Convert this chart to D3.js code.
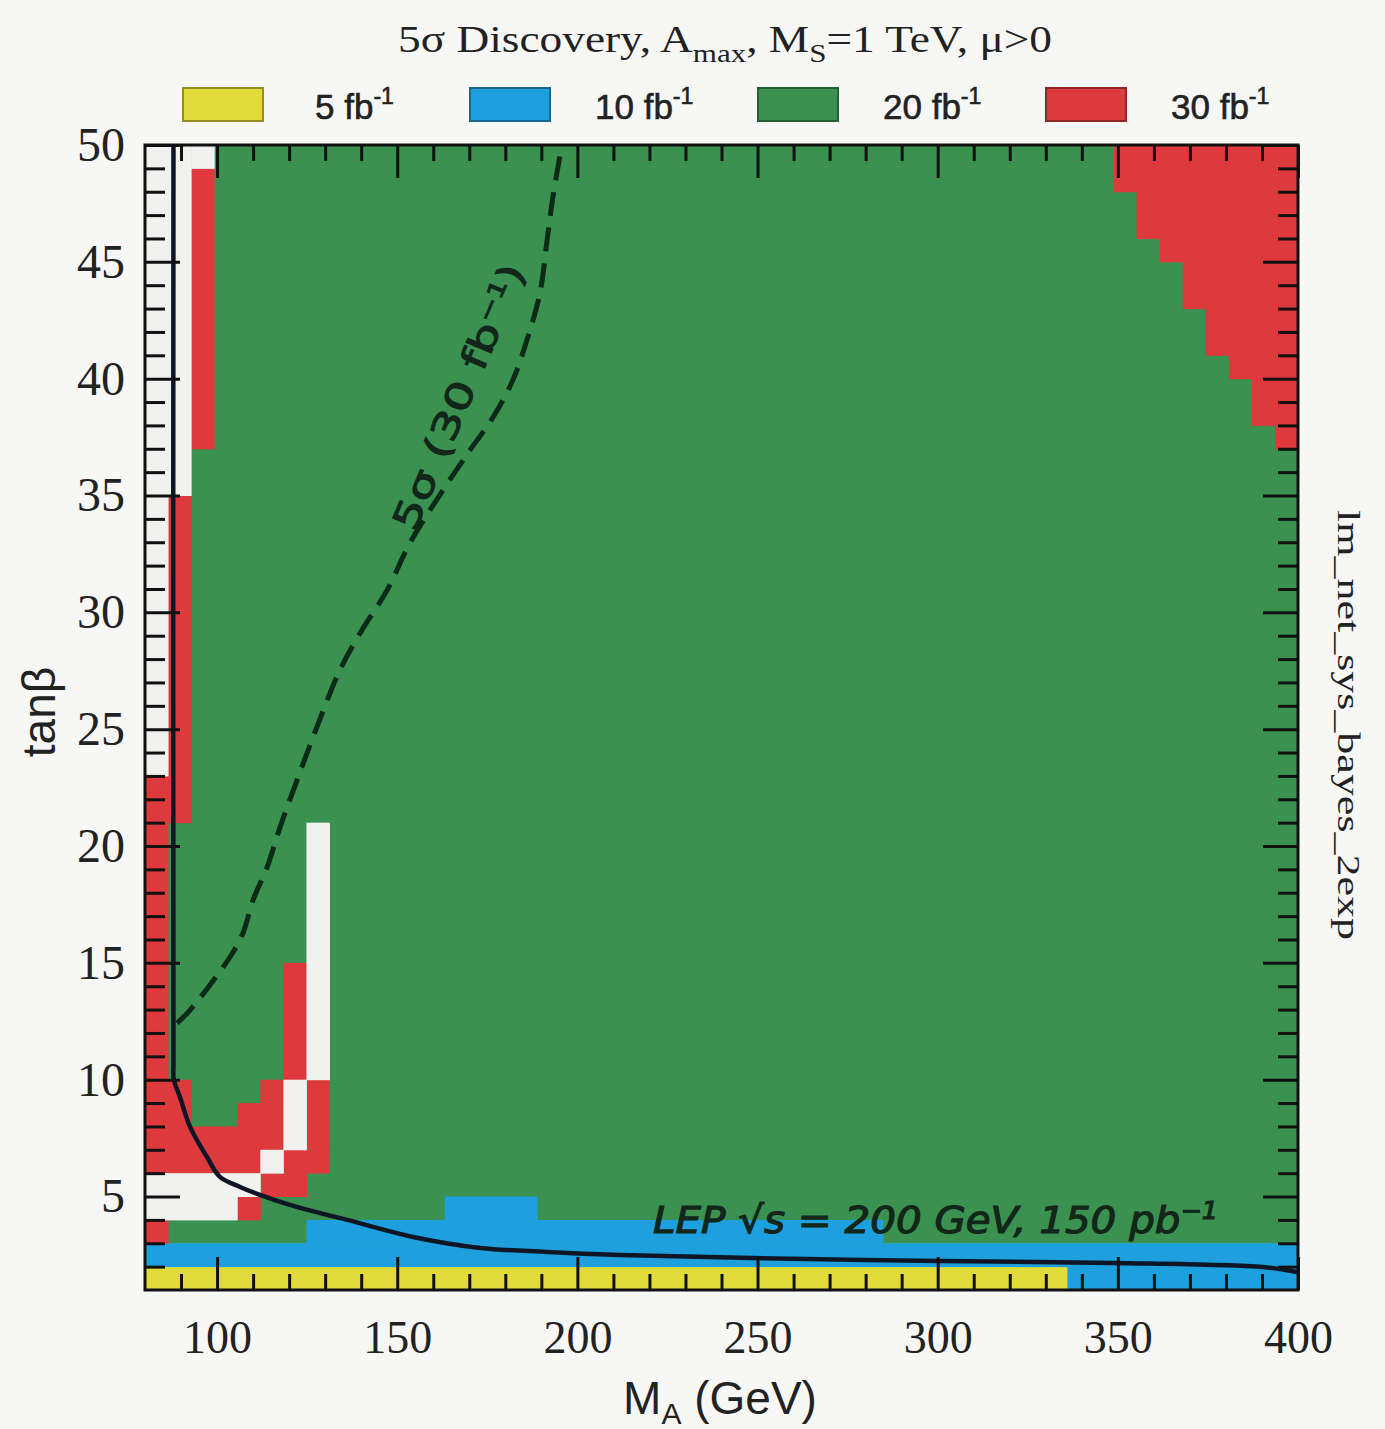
<!DOCTYPE html>
<html>
<head>
<meta charset="utf-8">
<script src="https://cdn.jsdelivr.net/npm/d3@7"></script>
<style>
  body { margin: 0; background: #f7f8f6; }
  svg { display: block; }
</style>
</head>
<body>
<div id="chart"></div>
<script>
// luminosity classes (legend order)
var lumiValues = ["5", "10", "20", "30"];
var lumiColors = ["#e2db3a", "#1ea0de", "#3a9150", "#de3a3d"];
var noneColor = "#f1f2ef";

// M_A grid: 50 columns of 6.4 GeV between 80 and 400, tanb rows of 1 between 1 and 50
var maMin = 80, maMax = 400, maStep = 6.4;
var tanbMin = 1, tanbMax = 50;

// cells as [firstColumn, lastColumn, tanbLow, tanbHigh]
var cells20 = [[0, 49, 3, 50]];
var cells5 = [[0, 39, 1, 2]];
var cells10 = [[40, 49, 1, 2], [0, 49, 2, 3], [7, 31, 3, 4], [13, 16, 4, 5]];
var cells30 = [
  [0, 0, 3, 4], [4, 4, 4, 5], [5, 6, 5, 6], [0, 4, 6, 7], [6, 7, 6, 7],
  [0, 5, 7, 8], [7, 7, 7, 8], [0, 1, 8, 10], [4, 5, 8, 9], [5, 5, 9, 10],
  [7, 7, 8, 10], [0, 0, 10, 23], [6, 6, 10, 15], [1, 1, 21, 35], [2, 2, 37, 49],
  [42, 49, 48, 50], [43, 49, 46, 48], [44, 49, 45, 46], [45, 49, 43, 45],
  [46, 49, 41, 43], [47, 49, 40, 41], [48, 49, 38, 40], [49, 49, 37, 38]
];
var cellsNone = [
  [0, 3, 4, 5], [0, 4, 5, 6], [5, 5, 6, 7], [6, 6, 7, 10], [7, 7, 10, 21],
  [0, 0, 23, 50], [1, 1, 35, 50], [2, 2, 49, 50]
];

// LEP limit (solid)
var lepMA   = [87.9, 87.9, 88.0, 89.7, 92.5, 97.2, 100.8, 106.4, 111.9, 120.2, 128.6, 136.1, 154.4, 173.0, 191.6, 211.8, 248.7, 300.6, 348.7, 390.3, 399.7];
var lepTanb = [50, 10.8, 10.0, 9.26, 7.98, 6.69, 5.84, 5.41, 5.07, 4.64, 4.29, 4.0, 3.27, 2.80, 2.63, 2.50, 2.37, 2.24, 2.16, 1.98, 1.77];

// 5 sigma, 30 fb-1 contour (dashed)
var sigMA   = [88.9, 92.5, 103.6, 107.2, 110.0, 113.9, 117.5, 122.2, 127.7, 134.1, 139.7, 147.2, 153.5, 162.7, 170.2, 176.6, 182.1, 186.0, 189.6, 191.6, 193.2, 195.7];
var sigTanb = [12.42, 12.98, 15.25, 16.28, 17.69, 19.10, 20.81, 22.82, 25.09, 27.53, 29.11, 30.95, 32.96, 35.23, 36.94, 38.35, 39.94, 41.65, 43.66, 45.93, 47.77, 50.0];

// tick values
var xMajorTicks = [100, 150, 200, 250, 300, 350, 400];
var yMajorTicks = [5, 10, 15, 20, 25, 30, 35, 40, 45, 50];

var svgWidth = 1385, svgHeight = 1429;
var margin = { top: 145, left: 145, right: 87, bottom: 139 };
var width = svgWidth - margin.left - margin.right;
var height = svgHeight - margin.top - margin.bottom;

var svg = d3.select("#chart").append("svg")
  .attr("width", svgWidth)
  .attr("height", svgHeight);

var chartGroup = svg.append("g")
  .attr("transform", `translate(${margin.left}, ${margin.top})`);

var xScale = d3.scaleLinear().domain([maMin, maMax]).range([0, width]);
var yScale = d3.scaleLinear().domain([tanbMin, tanbMax]).range([height, 0]);

// draw cell rectangles
function drawCells(cells, color) {
  chartGroup.append("g").selectAll("rect")
    .data(cells)
    .enter()
    .append("rect")
    .attr("x", d => xScale(maMin + d[0] * maStep))
    .attr("width", d => xScale(maMin + (d[1] + 1) * maStep) - xScale(maMin + d[0] * maStep) + 0.5)
    .attr("y", d => yScale(d[3]))
    .attr("height", d => yScale(d[2]) - yScale(d[3]) + 0.5)
    .attr("fill", color);
}
drawCells(cells20, lumiColors[2]);
drawCells(cells5, lumiColors[0]);
drawCells(cells10, lumiColors[1]);
drawCells(cells30, lumiColors[3]);
drawCells(cellsNone, noneColor);

// curves
var line = d3.line()
  .x(d => xScale(d[0]))
  .y(d => yScale(d[1]))
  .curve(d3.curveCatmullRom.alpha(0.5));

chartGroup.append("path")
  .datum(lepMA.map((m, i) => [m, lepTanb[i]]))
  .attr("d", line)
  .attr("fill", "none")
  .attr("stroke", "#0e1626")
  .attr("stroke-width", 4.5);

chartGroup.append("path")
  .datum(sigMA.map((m, i) => [m, sigTanb[i]]))
  .attr("d", line)
  .attr("fill", "none")
  .attr("stroke", "#0b2a17")
  .attr("stroke-width", 5)
  .attr("stroke-dasharray", "24,12");

// handwritten notes
var sigNote = chartGroup.append("text")
  .attr("transform", `translate(${xScale(154.9)}, ${yScale(33.4)}) rotate(-67)`)
  .attr("font-family", "DejaVu Sans")
  .attr("font-size", 36)
  .attr("fill", "#12261a")
  .attr("stroke", "#12261a")
  .attr("stroke-width", 1)
  .attr("textLength", 285)
  .attr("lengthAdjust", "spacingAndGlyphs");
sigNote.append("tspan").text("5σ (30 fb");
sigNote.append("tspan").attr("dy", -12).attr("font-size", 22).text("−1");
sigNote.append("tspan").attr("dy", 12).text(")");

var lep = chartGroup.append("text")
  .attr("x", xScale(221))
  .attr("y", yScale(3.45))
  .attr("font-family", "DejaVu Sans")
  .attr("font-style", "italic")
  .attr("font-size", 38)
  .attr("fill", "#12261a")
  .attr("stroke", "#12261a")
  .attr("stroke-width", 1.2)
  .attr("textLength", 565)
  .attr("lengthAdjust", "spacingAndGlyphs");
lep.append("tspan").text("LEP √s = 200 GeV, 150 pb");
lep.append("tspan").attr("dy", -14).attr("font-size", 24).text("−1");

// axes: ticks on all four sides, pointing inward
function addAxis(axis, transform, labels) {
  var g = chartGroup.append("g")
    .attr("transform", transform)
    .call(axis);
  g.select(".domain").remove();
  g.selectAll(".tick line").attr("stroke", "#111").attr("stroke-width", 3);
  if (!labels) g.selectAll("text").remove();
  return g;
}

var xMinor = d3.range(90, 400, 10).filter(v => v % 50 !== 0);
var yMinor = d3.range(2, 50, 1).filter(v => v % 5 !== 0);

addAxis(d3.axisBottom(xScale).tickValues(xMinor).tickSize(-16), `translate(0, ${height})`, false);
addAxis(d3.axisTop(xScale).tickValues(xMinor).tickSize(-16), "translate(0, 0)", false);
addAxis(d3.axisTop(xScale).tickValues(xMajorTicks).tickSize(-33), "translate(0, 0)", false);
var xAxisG = addAxis(d3.axisBottom(xScale).tickValues(xMajorTicks).tickSize(-33).tickPadding(30), `translate(0, ${height})`, true);
xAxisG.selectAll("text")
  .attr("font-family", "Liberation Serif")
  .attr("font-size", 46)
  .attr("fill", "#222");

addAxis(d3.axisLeft(yScale).tickValues(yMinor).tickSize(-20), "translate(0, 0)", false);
addAxis(d3.axisRight(yScale).tickValues(yMinor).tickSize(-20), `translate(${width}, 0)`, false);
addAxis(d3.axisRight(yScale).tickValues(yMajorTicks).tickSize(-35), `translate(${width}, 0)`, false);
var yAxisG = addAxis(d3.axisLeft(yScale).tickValues(yMajorTicks).tickSize(-35).tickPadding(20), "translate(0, 0)", true);
yAxisG.selectAll("text")
  .attr("font-family", "Liberation Serif")
  .attr("font-size", 48)
  .attr("fill", "#222");

// frame
chartGroup.append("rect")
  .attr("width", width)
  .attr("height", height)
  .attr("fill", "none")
  .attr("stroke", "#111")
  .attr("stroke-width", 3);

// axis titles
var xTitle = svg.append("text")
  .attr("x", 720)
  .attr("y", 1414)
  .attr("text-anchor", "middle")
  .attr("font-family", "Liberation Sans")
  .attr("font-size", 46)
  .attr("fill", "#222");
xTitle.append("tspan").text("M");
xTitle.append("tspan").attr("dy", 10).attr("font-size", 30).text("A");
xTitle.append("tspan").attr("dy", -10).text(" (GeV)");

svg.append("text")
  .attr("transform", "translate(55, 712) rotate(-90)")
  .attr("text-anchor", "middle")
  .attr("font-family", "Liberation Sans")
  .attr("font-size", 46)
  .attr("fill", "#222")
  .text("tanβ");

svg.append("text")
  .attr("transform", "translate(1338, 510) rotate(90)")
  .attr("font-family", "Liberation Serif")
  .attr("font-size", 32)
  .attr("fill", "#222")
  .attr("textLength", 430)
  .attr("lengthAdjust", "spacingAndGlyphs")
  .text("lm_net_sys_bayes_2exp");

// title
var title = svg.append("text")
  .attr("x", 398)
  .attr("y", 52)
  .attr("font-family", "Liberation Serif")
  .attr("font-size", 38)
  .attr("fill", "#222")
  .attr("textLength", 654)
  .attr("lengthAdjust", "spacingAndGlyphs");
title.append("tspan").text("5σ Discovery, A");
title.append("tspan").attr("dy", 10).attr("font-size", 26).text("max");
title.append("tspan").attr("dy", -10).text(", M");
title.append("tspan").attr("dy", 10).attr("font-size", 26).text("S");
title.append("tspan").attr("dy", -10).text("=1 TeV, μ>0");

// legend
var legendX = [183, 470, 758, 1046];
var legend = svg.append("g").selectAll("g")
  .data(lumiValues)
  .enter()
  .append("g")
  .attr("transform", (d, i) => `translate(${legendX[i]}, 88)`);

legend.append("rect")
  .attr("width", 80)
  .attr("height", 33)
  .attr("fill", (d, i) => lumiColors[i])
  .attr("stroke", (d, i) => d3.color(lumiColors[i]).darker(1.2))
  .attr("stroke-width", 2);

var legendText = legend.append("text")
  .attr("x", (d, i) => i === 0 ? 132 : 125)
  .attr("y", 31)
  .attr("font-family", "Liberation Sans")
  .attr("font-size", 35)
  .attr("fill", "#222")
  .attr("stroke", "#222")
  .attr("stroke-width", 0.6);
legendText.append("tspan").text(d => d + " fb");
legendText.append("tspan").attr("dy", -15).attr("font-size", 23).text("-1");
</script>
</body>
</html>
